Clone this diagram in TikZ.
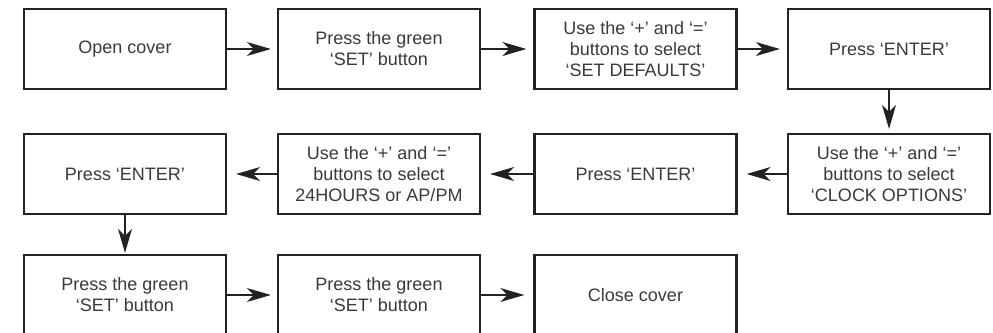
\documentclass[tikz,border=0pt]{standalone}
\usepackage{fontspec}
\setmainfont{Liberation Sans}
\usetikzlibrary{arrows.meta}
\definecolor{txt}{HTML}{3A3A3A}
\definecolor{edge}{HTML}{222222}
\tikzset{
  stepbox/.style={draw=edge, line width=2.3pt, minimum width=202pt, minimum height=80pt,
    inner sep=0pt, align=center, text=txt, font=\fontsize{18}{21}\selectfont},
  flow/.style={draw=edge, line width=1.3pt, -{Stealth[length=24pt,width=14pt,inset=7pt]}},
}
\begin{document}
\begin{tikzpicture}[x=1pt,y=-1pt]
\useasboundingbox[fill=white] (0,0) rectangle (993,332);
% row 1
\node[stepbox] (a1) at (125,49) {Open cover};
\node[stepbox] (a2) at (379,49) {Press the green\\‘SET’ button};
\node[stepbox] (a3) at (635.5,49) {Use the ‘+’ and ‘=’\\buttons to select\\‘SET DEFAULTS’};
\node[stepbox] (a4) at (889,49) {Press ‘ENTER’};
% row 2
\node[stepbox] (b4) at (889,174) {Use the ‘+’ and ‘=’\\buttons to select\\‘CLOCK OPTIONS’};
\node[stepbox] (b3) at (635.5,174) {Press ‘ENTER’};
\node[stepbox] (b2) at (379,174) {Use the ‘+’ and ‘=’\\buttons to select\\24HOURS or AP/PM};
\node[stepbox] (b1) at (125,174) {Press ‘ENTER’};
% row 3
\node[stepbox] (c1) at (125,295) {Press the green\\‘SET’ button};
\node[stepbox] (c2) at (379,295) {Press the green\\‘SET’ button};
\node[stepbox] (c3) at (635.5,295) {Close cover};
% connectors
\draw[flow, shorten >=6pt] (a1) -- (a2);
\draw[flow, shorten >=7pt] (a2) -- (a3);
\draw[flow, shorten >=7pt] (a3) -- (a4);
\draw[flow, shorten >=4pt] (a4) -- (b4);
\draw[flow, shorten >=9pt] (b4) -- (b3);
\draw[flow, shorten >=9pt] (b3) -- (b2);
\draw[flow, shorten >=9pt] (b2) -- (b1);
\draw[flow, shorten >=1pt] (b1) -- (c1);
\draw[flow, shorten >=6pt] (c1) -- (c2);
\draw[flow, shorten >=9pt] (c2) -- (c3);
\end{tikzpicture}
\end{document}
